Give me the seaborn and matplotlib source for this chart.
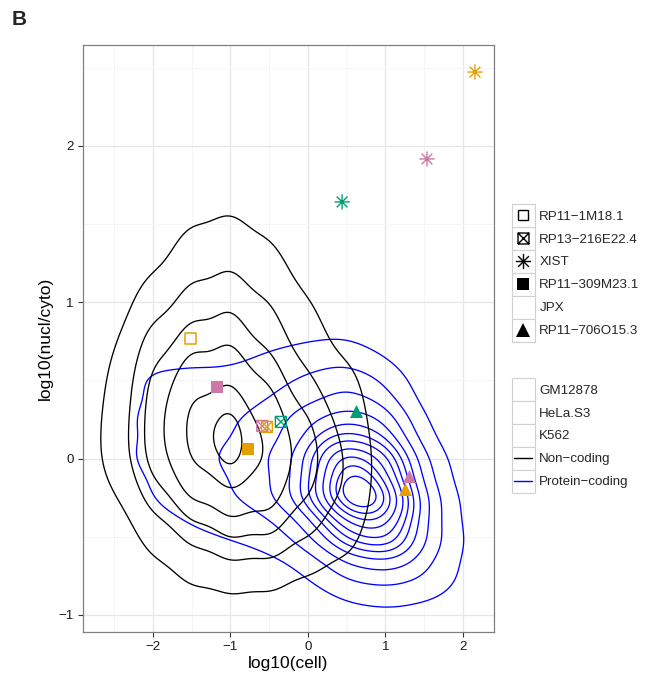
import numpy as np
import pandas as pd
import matplotlib
matplotlib.use("Agg")
import matplotlib.pyplot as plt
from matplotlib.path import Path
from matplotlib.lines import Line2D
from matplotlib.patches import Rectangle
from matplotlib.legend_handler import HandlerBase
import seaborn as sns

# ---------------------------------------------------------------- data
genes = ["RP11\u22121M18.1", "RP13\u2212216E22.4", "XIST", "RP11\u2212309M23.1", "JPX", "RP11\u2212706O15.3"]
cell_lines = ["GM12878", "HeLa.S3", "K562"]
cell_colors = ["#E69F00", "#009E73", "#CC79A7"]

pt_gene = ["RP11\u22121M18.1", "RP11\u2212309M23.1", "RP11\u2212309M23.1",
           "RP13\u2212216E22.4", "RP13\u2212216E22.4", "RP13\u2212216E22.4",
           "XIST", "XIST", "XIST",
           "RP11\u2212706O15.3", "RP11\u2212706O15.3", "RP11\u2212706O15.3"]
pt_cell = ["GM12878", "K562", "GM12878",
           "K562", "GM12878", "HeLa.S3",
           "HeLa.S3", "K562", "GM12878",
           "HeLa.S3", "K562", "GM12878"]
pt_x = [-1.52, -1.17, -0.77, -0.59, -0.53, -0.35, 0.44, 1.535, 2.155, 0.62, 1.30, 1.25]
pt_y = [0.766, 0.459, 0.062, 0.209, 0.203, 0.235, 1.642, 1.917, 2.473, 0.305, -0.111, -0.194]

# Non-coding density (contour level counts on a grid)
nc_x = [-3.0, -2.5, -2.0, -1.5, -1.0, -0.5, 0.0, 0.5, 1.0]
nc_y = [-1.0, -0.75, -0.5, -0.25, 0.0, 0.25, 0.5, 0.75, 1.0, 1.25, 1.5, 1.75]
nc_counts = [
    [0.01, 0.07, 0.20, 0.40, 0.47, 0.42, 0.30, 0.20, 0.07],
    [0.02, 0.15, 0.55, 1.09, 1.29, 1.20, 0.75, 0.55, 0.15],
    [0.03, 0.25, 1.27, 2.15, 3.00, 2.95, 2.00, 1.27, 0.25],
    [0.11, 0.80, 2.41, 3.90, 4.50, 4.20, 2.87, 1.88, 0.45],
    [0.25, 1.44, 3.40, 5.05, 6.00, 4.81, 3.44, 1.97, 0.55],
    [0.20, 1.31, 3.33, 5.20, 5.95, 4.47, 3.03, 1.60, 0.45],
    [0.15, 1.10, 3.19, 4.52, 4.77, 3.63, 2.00, 1.32, 0.34],
    [0.11, 0.80, 2.42, 3.42, 3.69, 2.57, 1.49, 0.55, 0.25],
    [0.05, 0.40, 1.52, 2.40, 2.74, 2.00, 1.00, 0.25, 0.09],
    [0.03, 0.15, 0.67, 1.62, 1.86, 1.33, 0.45, 0.11, 0.02],
    [0.02, 0.10, 0.30, 0.90, 1.17, 0.70, 0.22, 0.06, 0.01],
    [0.01, 0.05, 0.15, 0.35, 0.45, 0.25, 0.08, 0.01, 0.01],
]
nc_peak_x = [-1.05]
nc_peak_y = [0.12]
nc_peak_w = [1.2]

# Protein-coding density
pc_x = [-2.5, -2.0, -1.5, -1.0, -0.5, 0.0, 0.5, 1.0, 1.5, 2.0]
pc_y = [-1.25, -1.0, -0.75, -0.5, -0.25, 0.0, 0.25, 0.5, 0.75, 1.0]
pc_counts = [
    [0.01, 0.01, 0.03, 0.05, 0.08, 0.15, 0.20, 0.25, 0.20, 0.12],
    [0.02, 0.05, 0.10, 0.15, 0.25, 0.50, 0.65, 0.80, 0.65, 0.45],
    [0.05, 0.15, 0.35, 0.43, 0.55, 1.00, 2.30, 2.60, 2.00, 0.90],
    [0.15, 0.65, 1.00, 1.15, 1.50, 2.67, 5.90, 7.00, 2.90, 1.00],
    [0.35, 1.20, 1.60, 2.05, 2.87, 5.10, 10.7, 9.00, 2.95, 0.70],
    [0.85, 1.40, 1.80, 2.38, 3.00, 4.50, 9.00, 7.20, 2.00, 0.45],
    [0.80, 1.40, 1.65, 2.00, 2.63, 3.60, 4.50, 4.10, 0.90, 0.15],
    [0.60, 1.40, 1.30, 1.30, 1.80, 2.30, 3.00, 2.00, 0.45, 0.10],
    [0.25, 0.60, 0.85, 0.60, 0.90, 1.00, 1.15, 0.70, 0.25, 0.10],
    [0.05, 0.12, 0.18, 0.20, 0.25, 0.35, 0.40, 0.30, 0.15, 0.05],
]
pc_peak_x = [0.55, 0.68, 0.81]
pc_peak_y = [-0.11, -0.20, -0.29]
pc_peak_w = [1.2, 1.5, 1.2]

# points on each contour line (outermost first)
nc_left = [(-2.65, 0.04), (-2.31, 0.06), (-2.07, 0.04), (-1.88, 0.01), (-1.60, 0.10), (-1.28, 0.12)]
nc_right = [(0.85, -0.09), (0.51, 0.01), (0.16, -0.01), (-0.20, 0.05), (-0.57, 0.06), (-0.83, 0.12)]
nc_top = [(-1.07, 1.56), (-1.07, 1.20), (-1.00, 0.93), (-1.04, 0.665), (-1.05, 0.45), (-1.05, 0.25)]
nc_bottom = [(-1.28, -0.81), (-1.11, -0.60), (-1.05, -0.49), (-1.05, -0.36), (-1.05, -0.16), (-1.05, -0.01)]

pc_right_x = [1.86, 1.64, 1.49, 1.39, 1.31, 1.23, 1.15, 1.07, 1.00, 0.93, 0.85]
pc_left_x = [-2.25, -1.05, -0.42, -0.12, -0.01, 0.08, 0.16, 0.26, 0.35, 0.43, 0.53]
pc_top_y = [0.74, 0.54, 0.42, 0.31, 0.24, 0.19, 0.13, 0.08, 0.03, -0.03, -0.09]
pc_bottom_y = [-0.90, -0.82, -0.73, -0.67, -0.61, -0.56, -0.52, -0.47, -0.41, -0.36, -0.31]
pc_ray_y = -0.20
pc_ray_x = 0.68

BW = 0.30


def grid_frame(xs, ys, counts, px, py, pw):
    rows = [(x, y, w) for y, row in zip(ys, counts) for x, w in zip(xs, row)]
    rows += list(zip(px, py, pw))
    return pd.DataFrame(rows, columns=["x", "y", "w"])


def kde_eval(qx, qy, dx, dy, w, factor):
    cov = np.cov(np.vstack([dx, dy]), aweights=w, bias=False) * factor ** 2
    inv = np.linalg.inv(cov)
    norm = 1.0 / (2 * np.pi * np.sqrt(np.linalg.det(cov)))
    wn = w / w.sum()
    out = np.empty(len(qx))
    for i in range(0, len(qx), 4000):
        ex = qx[i:i + 4000, None] - dx[None, :]
        ey = qy[i:i + 4000, None] - dy[None, :]
        q = inv[0, 0] * ex * ex + 2 * inv[0, 1] * ex * ey + inv[1, 1] * ey * ey
        out[i:i + 4000] = np.exp(-0.5 * q) @ wn
    return out * norm, cov


def iso_props(df, factor, anchor_sets):
    dx, dy, w = df["x"].to_numpy(float), df["y"].to_numpy(float), df["w"].to_numpy(float)
    _, cov = kde_eval(np.zeros(1), np.zeros(1), dx, dy, w, factor)
    bw = np.sqrt(np.diag(cov))
    gx = np.linspace(dx.min() - 3 * bw[0], dx.max() + 3 * bw[0], 200)
    gy = np.linspace(dy.min() - 3 * bw[1], dy.max() + 3 * bw[1], 200)
    xx, yy = np.meshgrid(gx, gy)
    dens, _ = kde_eval(xx.ravel(), yy.ravel(), dx, dy, w, factor)
    total = dens.sum()
    props = []
    for pts in anchor_sets:
        ax_, ay_ = np.array(pts, dtype=float).T
        d, _ = kde_eval(ax_, ay_, dx, dy, w, factor)
        lev = np.exp(np.mean(np.log(d)))
        props.append(1 - dens[dens >= lev].sum() / total)
    props = np.unique(np.clip(np.array(props), 0, 1))
    return list(props)


nc_df = grid_frame(nc_x, nc_y, nc_counts, nc_peak_x, nc_peak_y, nc_peak_w)
pc_df = grid_frame(pc_x, pc_y, pc_counts, pc_peak_x, pc_peak_y, pc_peak_w)

nc_sets = [[nc_left[i], nc_right[i], nc_top[i], nc_bottom[i]] for i in range(len(nc_left))]
pc_sets = [[(pc_left_x[i], pc_ray_y), (pc_right_x[i], pc_ray_y),
            (pc_ray_x, pc_top_y[i]), (pc_ray_x, pc_bottom_y[i])] for i in range(len(pc_left_x))]

nc_levels = iso_props(nc_df, BW, nc_sets)
pc_levels = iso_props(pc_df, BW, pc_sets)

# ---------------------------------------------------------------- figure
sns.set_theme(style="white")
plt.rcParams["font.family"] = ["Liberation Sans", "DejaVu Sans"]
plt.rcParams["axes.unicode_minus"] = True

W, H = 649, 679
fig = plt.figure(figsize=(W / 100, H / 100), dpi=100)
ax = fig.add_axes([83 / W, 1 - 632 / H, (494 - 83) / W, (632 - 45) / H])

sns.kdeplot(data=pc_df, x="x", y="y", weights="w", bw_method=BW, levels=pc_levels,
            color="#0000FF", linewidths=0.95, ax=ax)
sns.kdeplot(data=nc_df, x="x", y="y", weights="w", bw_method=BW, levels=nc_levels,
            color="black", linewidths=0.95, ax=ax)

# special markers
boxx = Path([(-1, -1), (1, -1), (1, 1), (-1, 1), (-1, -1), (-1, -1), (1, 1), (-1, 1), (1, -1)],
            [Path.MOVETO, Path.LINETO, Path.LINETO, Path.LINETO, Path.LINETO,
             Path.MOVETO, Path.LINETO, Path.MOVETO, Path.LINETO])
r = 0.7071
star8 = Path([(-1, 0), (1, 0), (0, -1), (0, 1), (-r, -r), (r, r), (-r, r), (r, -r)],
             [Path.MOVETO, Path.LINETO] * 4)

gene_style = {
    genes[0]: dict(marker="s", filled=False, s=62, lw=1.1),
    genes[1]: dict(marker=boxx, filled=False, s=62, lw=1.0),
    genes[2]: dict(marker=star8, filled=False, s=120, lw=1.0),
    genes[3]: dict(marker="s", filled=True, s=76, lw=0),
    genes[4]: None,
    genes[5]: dict(marker="^", filled=True, s=88, lw=0),
}
col_of = dict(zip(cell_lines, cell_colors))

pts = pd.DataFrame({"gene": pt_gene, "cell": pt_cell, "x": pt_x, "y": pt_y})
for _, row in pts.iterrows():
    st = gene_style[row["gene"]]
    c = col_of[row["cell"]]
    if st["filled"]:
        ax.scatter([row["x"]], [row["y"]], marker=st["marker"], s=st["s"], color=c,
                   linewidths=0, zorder=5)
    else:
        ax.scatter([row["x"]], [row["y"]], marker=st["marker"], s=st["s"], facecolors="none",
                   edgecolors=c, linewidths=st["lw"], zorder=5)

# axes styling
ax.set_xlim(-2.903, 2.40)
ax.set_ylim(-1.109, 2.646)
ax.set_xticks([-2, -1, 0, 1, 2])
ax.set_yticks([-1, 0, 1, 2])
ax.set_xticks([-2.5, -1.5, -0.5, 0.5, 1.5], minor=True)
ax.set_yticks([-0.5, 0.5, 1.5, 2.5], minor=True)
ax.grid(which="major", color="#E6E6E6", lw=0.9)
ax.grid(which="minor", color="#F4F4F4", lw=0.6)
ax.set_axisbelow(True)
for sp in ax.spines.values():
    sp.set_visible(True)
    sp.set_color("#808080")
    sp.set_linewidth(0.9)
ax.tick_params(which="major", direction="out", length=3.6, width=0.8, color="#333333",
               labelsize=9.6, labelcolor="#1a1a1a", pad=3, bottom=True, left=True)
ax.tick_params(which="minor", length=0)
ax.set_xlabel("log10(cell)", fontsize=12.5, labelpad=2, color="black")
ax.set_ylabel("log10(nucl/cyto)", fontsize=12.5, labelpad=4, color="black")

fig.text(12 / W, 1 - 10 / H, "B", fontsize=15, fontweight="bold", ha="left", va="top")


# ---------------------------------------------------------------- legends
class KeyHandler(HandlerBase):
    def __init__(self, kind=None, marker=None, filled=True, color="black", ms=8, lw=1.0):
        super().__init__()
        self.kind, self.marker, self.filled = kind, marker, filled
        self.color, self.ms, self.lw = color, ms, lw

    def create_artists(self, legend, orig_handle, xdescent, ydescent, width, height, fontsize, trans):
        x0, y0 = -xdescent, -ydescent
        arts = [Rectangle((x0, y0), width, height, facecolor="white", edgecolor="#D0D0D0",
                          lw=0.8, transform=trans)]
        cx, cy = x0 + width / 2, y0 + height / 2
        if self.kind == "line":
            arts.append(Line2D([x0 + 0.1 * width, x0 + 0.9 * width], [cy, cy], color=self.color,
                               lw=self.lw, transform=trans))
        elif self.kind == "marker":
            if self.filled:
                arts.append(Line2D([cx], [cy], marker=self.marker, ms=self.ms, mfc=self.color,
                                   mec=self.color, mew=0, ls="none", transform=trans))
            else:
                arts.append(Line2D([cx], [cy], marker=self.marker, ms=self.ms, mfc="none",
                                   mec=self.color, mew=1.0, ls="none", transform=trans))
        return arts


shape_handles, shape_map = [], {}
for g in genes:
    h = Line2D([], [])
    st = gene_style[g]
    if st is None:
        shape_map[h] = KeyHandler(kind=None)
    else:
        shape_map[h] = KeyHandler(kind="marker", marker=st["marker"], filled=st["filled"],
                                  ms=np.sqrt(st["s"]))
    shape_handles.append(h)

col_handles, col_map, col_labels = [], {}, []
for cl in cell_lines:
    h = Line2D([], [])
    col_map[h] = KeyHandler(kind=None)
    col_handles.append(h)
    col_labels.append(cl)
for lab, c in [("Non\u2212coding", "black"), ("Protein\u2212coding", "#0000FF")]:
    h = Line2D([], [])
    col_map[h] = KeyHandler(kind="line", color=c, lw=1.0)
    col_handles.append(h)
    col_labels.append(lab)

leg_kw = dict(loc="upper left", frameon=False, borderpad=0, borderaxespad=0,
              handlelength=1.70, handleheight=2.27, labelspacing=0, handletextpad=0.35,
              prop={"size": 9.6}, bbox_transform=fig.transFigure)
leg1 = fig.legend(shape_handles, genes, handler_map=shape_map,
                  bbox_to_anchor=(512 / W, 1 - 204 / H), **leg_kw)
leg2 = fig.legend(col_handles, col_labels, handler_map=col_map,
                  bbox_to_anchor=(512 / W, 1 - 378 / H), **leg_kw)

fig.savefig("out.png", dpi=100)
